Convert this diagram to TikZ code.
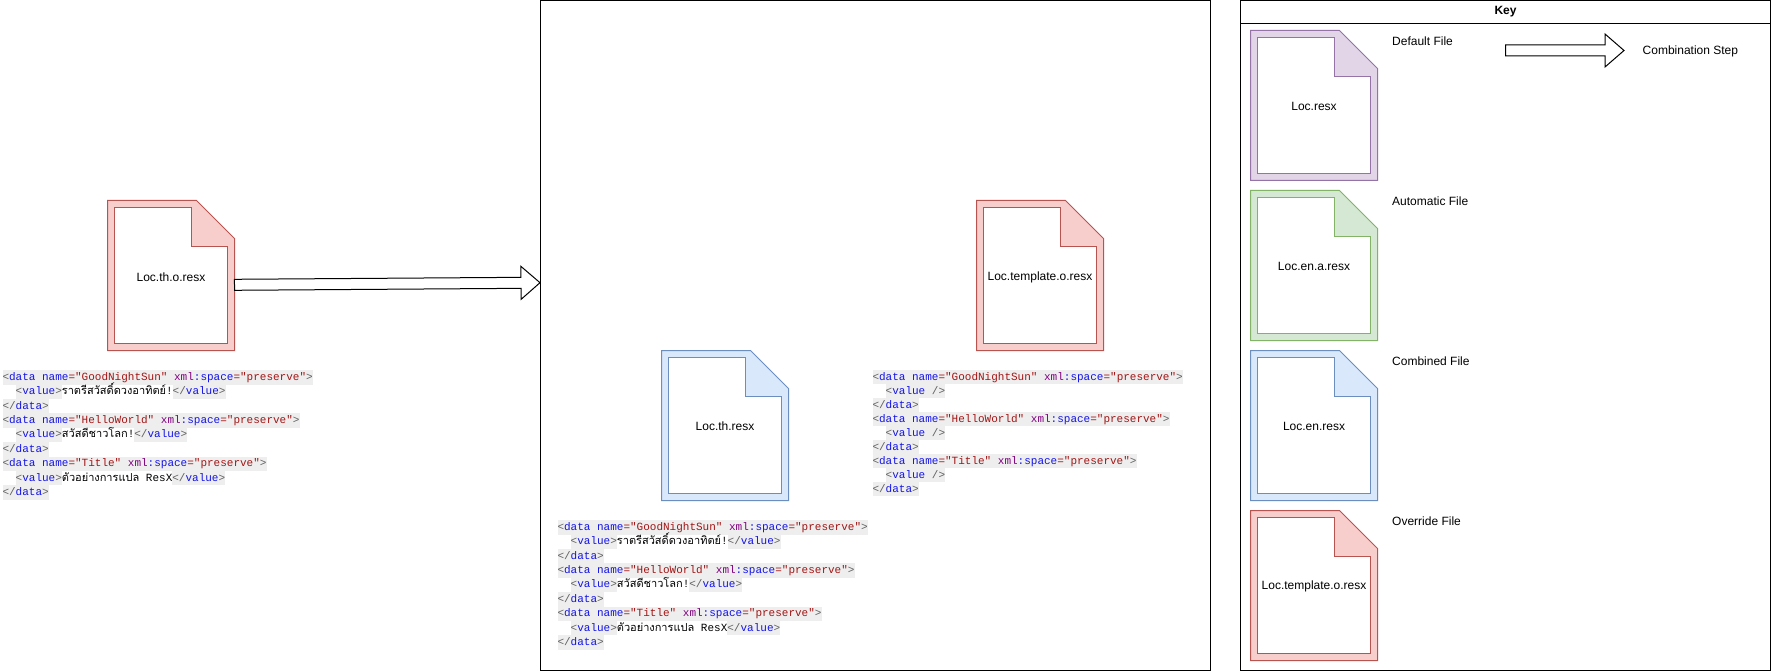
\documentclass[tikz,border=0pt]{standalone}
\usepackage{fontspec}
\setmainfont{Liberation Sans}
\newfontfamily\codefont{Liberation Mono}
\newfontfamily\thaifont[Script=Thai]{Loma}
\usetikzlibrary{calc}
\definecolor{redfill}{HTML}{F8CECC}
\definecolor{reddraw}{HTML}{B85450}
\definecolor{bluefill}{HTML}{DAE8FC}
\definecolor{bluedraw}{HTML}{6C8EBF}
\definecolor{purplefill}{HTML}{E1D5E7}
\definecolor{purpledraw}{HTML}{9673A6}
\definecolor{greenfill}{HTML}{D5E8D4}
\definecolor{greendraw}{HTML}{82B366}
\definecolor{codebg}{HTML}{EEEEEE}
\definecolor{tagbr}{HTML}{606060}
\definecolor{tagname}{HTML}{1414E6}
\definecolor{attrval}{HTML}{A31515}
\definecolor{xmlname}{HTML}{800080}
\setlength{\fboxsep}{0pt}
\newcommand{\hl}[1]{\colorbox{codebg}{\strut #1}}
\newcommand{\thai}[1]{\smash{\thaifont #1}}
\newcommand{\dataopen}[1]{\hl{\textcolor{tagbr}{<}\textcolor{tagname}{data name}\textcolor{attrval}{="#1"} \textcolor{xmlname}{xml}\textcolor{tagname}{:space}\textcolor{attrval}{="preserve"}\textcolor{tagbr}{>}}}
\newcommand{\dataclose}{\hl{\textcolor{tagbr}{</}\textcolor{tagname}{data}\textcolor{tagbr}{>}}}
\newcommand{\valueopen}{\hl{\textcolor{tagbr}{<}\textcolor{tagname}{value}\textcolor{tagbr}{>}}}
\newcommand{\valueclose}{\hl{\textcolor{tagbr}{</}\textcolor{tagname}{value}\textcolor{tagbr}{>}}}
\newcommand{\valueempty}{\hl{\textcolor{tagbr}{<}\textcolor{tagname}{value} \textcolor{tagbr}{/>}}}
\newcommand{\indentcode}{\hspace{13.2pt}}
\tikzset{
  fileicon/.pic={
    \path[pic actions] (0,0) -- (89,0) -- (127,38) -- (127,150) -- (0,150) -- cycle;
    \path[pic actions, fill=white] (7,7) -- (84,7) -- (84,46) -- (120,46) -- (120,143) -- (7,143) -- cycle;
  },
  redfile/.style={draw=reddraw, fill=redfill, line width=1pt},
  bluefile/.style={draw=bluedraw, fill=bluefill, line width=1pt},
  purplefile/.style={draw=purpledraw, fill=purplefill, line width=1pt},
  greenfile/.style={draw=greendraw, fill=greenfill, line width=1pt},
  filenode/.style={minimum width=127pt, minimum height=150pt, inner sep=0pt, font=\fontsize{12pt}{14pt}\selectfont},
  framebox/.style={draw, line width=1pt, inner sep=0pt},
  keytext/.style={anchor=west, inner sep=0pt, font=\fontsize{12pt}{14pt}\selectfont},
  codenode/.style={anchor=north west, inner sep=0pt, align=left, font=\codefont\fontsize{11pt}{14.4pt}\selectfont},
  tightcode/.style={codenode, font=\codefont\fontsize{11pt}{14pt}\selectfont},
  blockarrow/.style={draw, fill=white, line width=1pt, to path={
    ($(\tikztotarget)!19pt!(\tikztostart)$) coordinate (arrowbase)
    ($(\tikztostart)!5.5pt!90:(arrowbase)$) -- ($(arrowbase)!5.5pt!-90:(\tikztostart)$)
    -- ($(arrowbase)!16.5pt!-90:(\tikztostart)$) -- (\tikztotarget)
    -- ($(arrowbase)!16.5pt!90:(\tikztostart)$) -- ($(arrowbase)!5.5pt!90:(\tikztostart)$)
    -- ($(\tikztostart)!5.5pt!-90:(arrowbase)$) -- cycle}}
}
\begin{document}
\begin{tikzpicture}[x=1pt, y=-1pt]
  \useasboundingbox[fill=white] (0,0) rectangle (1771,671);
  \node[framebox, minimum width=670pt, minimum height=670pt] (midbox) at (875.5,335.5) {};
  \node[framebox, minimum width=530pt, minimum height=670pt] (keybox) at (1505.5,335.5) {};
  \node[framebox, minimum width=530pt, minimum height=23pt, font=\bfseries\fontsize{12pt}{14pt}\selectfont] (keytitle) at (1505.5,12) {Key};

  \pic[redfile] at (107.5,200.5) {fileicon};
  \node[filenode] (thover) at (171,277) {Loc.th.o.resx};
  \pic[bluefile] at (661.5,350.5) {fileicon};
  \node[filenode] (thcomb) at (725,426.5) {Loc.th.resx};
  \pic[redfile] at (976.5,200.5) {fileicon};
  \node[filenode] (tmplover) at (1040,277) {Loc.template.o.resx};

  \pic[purplefile] at (1250.5,30.5) {fileicon};
  \node[filenode] (keydefault) at (1314,106.5) {Loc.resx};
  \pic[greenfile] at (1250.5,190.5) {fileicon};
  \node[filenode] (keyauto) at (1314,266.5) {Loc.en.a.resx};
  \pic[bluefile] at (1250.5,350.5) {fileicon};
  \node[filenode] (keycomb) at (1314,426.5) {Loc.en.resx};
  \pic[redfile] at (1250.5,510.5) {fileicon};
  \node[filenode] (keyover) at (1314,586.5) {Loc.template.o.resx};

  \node[keytext] (deflabel) at (1392,41) {Default File};
  \node[keytext] (autolabel) at (1392,201) {Automatic File};
  \node[keytext] (comblabel) at (1392,361) {Combined File};
  \node[keytext] (overlabel) at (1392,521) {Override File};
  \node[keytext] (steplabel) at (1642.5,51) {Combination Step};

  \coordinate (mainstart) at (234.5,284.8);
  \coordinate (mainend) at (540,282.7);
  \coordinate (keystart) at (1505.5,50.5);
  \coordinate (keyend) at (1624,50.5);
  \draw[blockarrow] (mainstart) to (mainend);
  \draw[blockarrow] (keystart) to (keyend);

  \node[codenode] (thcode) at (2.3,370) {
    \dataopen{GoodNightSun}\\
    \indentcode\valueopen\thai{ราตรีสวัสดิ์ดวงอาทิตย์}!\valueclose\\
    \dataclose\\
    \dataopen{HelloWorld}\\
    \indentcode\valueopen\thai{สวัสดีชาวโลก}!\valueclose\\
    \dataclose\\
    \dataopen{Title}\\
    \indentcode\valueopen\thai{ตัวอย่างการแปล} ResX\valueclose\\
    \dataclose};
  \node[codenode] (combcode) at (557.3,520) {
    \dataopen{GoodNightSun}\\
    \indentcode\valueopen\thai{ราตรีสวัสดิ์ดวงอาทิตย์}!\valueclose\\
    \dataclose\\
    \dataopen{HelloWorld}\\
    \indentcode\valueopen\thai{สวัสดีชาวโลก}!\valueclose\\
    \dataclose\\
    \dataopen{Title}\\
    \indentcode\valueopen\thai{ตัวอย่างการแปล} ResX\valueclose\\
    \dataclose};
  \node[tightcode] (tmplcode) at (872.3,370) {
    \dataopen{GoodNightSun}\\
    \indentcode\valueempty\\
    \dataclose\\
    \dataopen{HelloWorld}\\
    \indentcode\valueempty\\
    \dataclose\\
    \dataopen{Title}\\
    \indentcode\valueempty\\
    \dataclose};
\end{tikzpicture}
\end{document}
